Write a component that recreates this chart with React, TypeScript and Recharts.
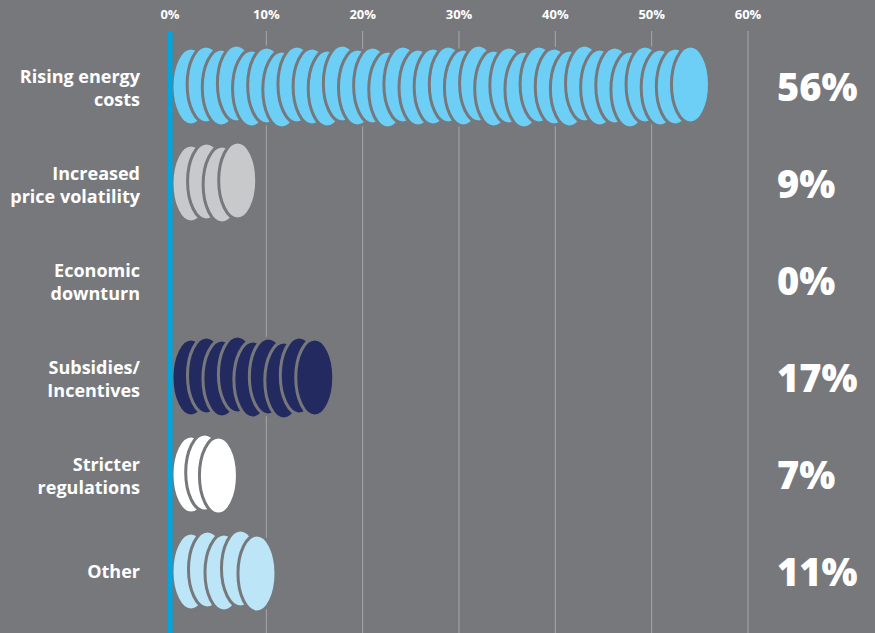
import { BarChart, Bar, XAxis, YAxis, CartesianGrid, ReferenceLine, Cell } from "recharts";

const categories = [
  "Rising energy\ncosts",
  "Increased\nprice volatility",
  "Economic\ndownturn",
  "Subsidies/\nIncentives",
  "Stricter\nregulations",
  "Other",
];
const shares = [56, 9, 0, 17, 7, 11];
const xTicks = [0, 10, 20, 30, 40, 50, 60];

const coinColors = ["#6dcff6", "#c8c9cb", "#8a8b8e", "#232a5f", "#ffffff", "#bde5f8"];

const BG = "#77787c";
const AXIS_BLUE = "#00a6e0";
const FONT = "'Open Sans', Lato, sans-serif";
// small vertical offsets so the coins look hand-stacked
const WOBBLE = [0, -2, 1, -3, 2, -1, 3, -2, 0, 2, -3, 1, -1, 3, -2, 1];

const data = categories.map((name, i) => ({ name, share: shares[i] }));

function CoinStack(props: any) {
  const { x, y, width, height, fill } = props;
  if (!width || width <= 4) return null;
  const rx = 19;
  const ry = height / 2 + 1;
  const start = x + 2;
  const span = Math.max(0, width - 2 - rx * 2);
  const n = Math.max(1, Math.round(span / 15) + 1);
  const step = n > 1 ? span / (n - 1) : 0;
  const cy = y + height / 2;
  return (
    <g>
      {Array.from({ length: n }, (_, i) => (
        <ellipse
          key={i}
          cx={start + rx + i * step}
          cy={cy + WOBBLE[i % WOBBLE.length]}
          rx={rx}
          ry={ry}
          fill={fill}
          stroke={BG}
          strokeWidth={3}
        />
      ))}
    </g>
  );
}

function CategoryTick(props: any) {
  const { x, y, payload } = props;
  const lines = String(payload.value).split("\n");
  const first = lines.length > 1 ? y - 4 : y + 6;
  return (
    <text x={x} y={first} textAnchor="end" fill="#ffffff" fontFamily={FONT} fontWeight={700} fontSize={18}>
      {lines.map((line, i) => (
        <tspan key={i} x={x} y={first + i * 23}>
          {line}
        </tspan>
      ))}
    </text>
  );
}

function ValueTick(props: any) {
  const { x, y, index } = props;
  return (
    <text x={x + 21} y={y + 14} textAnchor="start" fill="#ffffff" fontFamily={FONT} fontWeight={800} fontSize={38}>
      {shares[index]}%
    </text>
  );
}

export default function App() {
  return (
    <div style={{ position: "absolute", left: 0, top: 0, width: 875, height: 633, background: BG }}>
      <BarChart
        width={875}
        height={633}
        data={data}
        layout="vertical"
        margin={{ top: 0, right: 0, bottom: 0, left: 0 }}
      >
        <CartesianGrid horizontal={false} stroke="#a7a8ab" strokeWidth={1} />
        <XAxis
          type="number"
          orientation="top"
          domain={[0, 60]}
          ticks={xTicks}
          height={31}
          axisLine={false}
          tickLine={false}
          tickMargin={6}
          tickFormatter={(v) => `${v}%`}
          tick={{ fill: "#ffffff", fontSize: 13, fontWeight: 700, fontFamily: FONT }}
        />
        <YAxis
          yAxisId="left"
          type="category"
          dataKey="name"
          width={170}
          axisLine={false}
          tickLine={false}
          tickMargin={24}
          padding={{ top: 7, bottom: 13 }}
          tick={<CategoryTick />}
        />
        <YAxis
          yAxisId="right"
          type="category"
          dataKey="name"
          orientation="right"
          width={127}
          axisLine={false}
          tickLine={false}
          padding={{ top: 7, bottom: 13 }}
          tick={<ValueTick />}
        />
        <Bar dataKey="share" yAxisId="left" barSize={75} shape={<CoinStack />} isAnimationActive={false}>
          {data.map((_, i) => (
            <Cell key={i} fill={coinColors[i]} />
          ))}
        </Bar>
        <ReferenceLine x={0} yAxisId="left" stroke={AXIS_BLUE} strokeWidth={5} />
      </BarChart>
    </div>
  );
}
